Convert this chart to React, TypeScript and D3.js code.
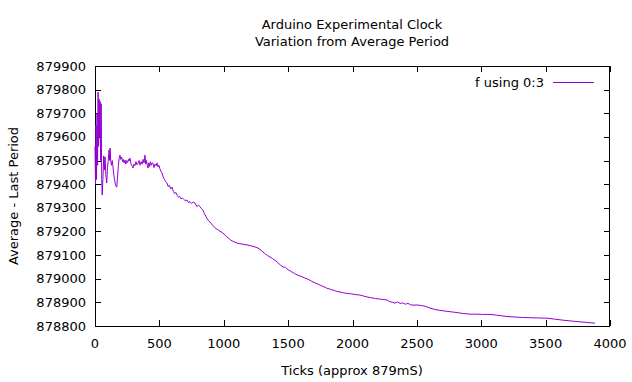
import React from "react";
import * as d3 from "d3";

const titleLines = ["Arduino Experimental Clock", "Variation from Average Period"];
const xLabel = "Ticks (approx 879mS)";
const yLabel = "Average - Last Period";
const legendLabel = "f using 0:3";
const xTicks = [0, 500, 1000, 1500, 2000, 2500, 3000, 3500, 4000];
const yTicks = [878800, 878900, 879000, 879100, 879200, 879300, 879400, 879500, 879600, 879700, 879800, 879900];

const ticks = [
  0, 4, 8, 12, 16, 20, 24, 28, 32, 36,
  40, 44, 48, 52, 56, 62, 68, 73, 78, 84,
  91, 97, 103, 109, 114, 117, 122, 128, 134, 140,
  146, 152, 158, 164, 169, 175, 182, 188, 194, 200,
  207, 214, 220, 226, 233, 240, 247, 254, 260, 266,
  272, 278, 284, 290, 295, 302, 310, 318, 326, 334,
  342, 350, 358, 366, 374, 381, 388, 394, 400, 406,
  412, 418, 424, 430, 436, 443, 450, 458, 466, 474,
  482, 489, 496, 504, 512, 520, 530, 540, 549, 559,
  568, 578, 588, 598, 608, 618, 628, 637, 648, 658,
  668, 678, 690, 702, 715, 727, 738, 750, 763, 777,
  790, 803, 816, 828, 839, 850, 860, 870, 878, 900,
  920, 940, 960, 980, 994, 1015, 1035, 1055, 1080, 1103,
  1125, 1150, 1181, 1205, 1235, 1266, 1290, 1315, 1340, 1359,
  1380, 1400, 1420, 1440, 1460, 1480, 1500, 1525, 1550, 1575,
  1600, 1625, 1654, 1680, 1710, 1740, 1770, 1800, 1830, 1860,
  1880, 1903, 1930, 1960, 1990, 2020, 2058, 2090, 2120, 2150,
  2180, 2210, 2240, 2268, 2290, 2310, 2330, 2350, 2370, 2390,
  2410, 2430, 2450, 2470, 2500, 2530, 2560, 2602, 2640, 2680,
  2720, 2750, 2781, 2820, 2860, 2913, 2960, 3010, 3068, 3120,
  3160, 3200, 3260, 3320, 3380, 3440, 3511, 3570, 3630, 3700,
  3760, 3820, 3883,
];
const values = [
  879560, 879400, 879650, 879420, 879700, 879480, 879790, 879560, 879760, 879600,
  879750, 879500, 879740, 879420, 879354, 879430, 879520, 879460, 879515, 879440,
  879405, 879470, 879500, 879545, 879500, 879553, 879500, 879480, 879500, 879473,
  879440, 879420, 879400, 879390, 879388, 879430, 879480, 879510, 879523, 879505,
  879515, 879495, 879505, 879490, 879502, 879485, 879500, 879492, 879505, 879498,
  879510, 879490, 879480, 879475, 879468, 879485, 879478, 879495, 879482, 879489,
  879500, 879480, 879495, 879485, 879505, 879490, 879523, 879485, 879500, 879480,
  879468, 879490, 879475, 879495, 879480, 879490, 879489, 879470, 879485, 879478,
  879490, 879473, 879480, 879465, 879455, 879447, 879430, 879420, 879410, 879405,
  879390, 879395, 879380, 879388, 879370, 879360, 879365, 879354, 879345, 879348,
  879338, 879342, 879335, 879330, 879333, 879322, 879326, 879318, 879325, 879320,
  879305, 879312, 879304, 879296, 879290, 879275, 879265, 879255, 879248, 879235,
  879222, 879212, 879205, 879198, 879193, 879182, 879172, 879163, 879156, 879151,
  879148, 879146, 879143, 879140, 879136, 879130, 879120, 879108, 879098, 879092,
  879085, 879077, 879068, 879058, 879050, 879048, 879038, 879030, 879022, 879015,
  879010, 879004, 878998, 878990, 878982, 878975, 878968, 878960, 878955, 878950,
  878946, 878944, 878940, 878938, 878936, 878933, 878931, 878926, 878922, 878919,
  878916, 878914, 878912, 878910, 878903, 878900, 878897, 878902, 878895, 878898,
  878892, 878896, 878890, 878888, 878889, 878887, 878884, 878876, 878870, 878866,
  878863, 878861, 878859, 878856, 878853, 878850, 878850, 878849, 878849, 878846,
  878843, 878840, 878838, 878836, 878835, 878834, 878833, 878829, 878825, 878821,
  878818, 878815, 878812,
];

const W = 632;
const H = 382;
const L = 95, R = 610, T = 66, B = 326;
const FONT = "DejaVu Sans, sans-serif";

export default function App() {
  const x = d3.scaleLinear().domain([0, 4000]).range([L, R]);
  const y = d3.scaleLinear().domain([878800, 879900]).range([B, T]);
  const pts: [number, number][] = ticks.map((t, i) => [t, values[i]]);
  const line = d3.line<[number, number]>().x((d) => x(d[0])).y((d) => y(d[1]));
  const tl = 6;
  return (
    <svg width={W} height={H} style={{ position: "absolute", left: 0, top: 0, background: "#fff" }}>
      <rect x={0} y={0} width={W} height={H} fill="#fff" />
      {titleLines.map((t, i) => (
        <text key={t} x={352} y={29 + i * 17} textAnchor="middle" fontFamily={FONT} fontSize={13} fill="#000">{t}</text>
      ))}
      <g stroke="#000" strokeWidth={1} fill="none">
        <rect x={L + 0.5} y={T + 0.5} width={R - L - 1} height={B - T} />
        {yTicks.map((v) => (
          <g key={v}>
            <line x1={L} x2={L + tl} y1={Math.round(y(v)) + 0.5} y2={Math.round(y(v)) + 0.5} />
            <line x1={R - tl} x2={R} y1={Math.round(y(v)) + 0.5} y2={Math.round(y(v)) + 0.5} />
          </g>
        ))}
        {xTicks.map((v) => (
          <g key={v}>
            <line x1={Math.round(x(v)) + 0.5} x2={Math.round(x(v)) + 0.5} y1={B} y2={B - tl} />
            <line x1={Math.round(x(v)) + 0.5} x2={Math.round(x(v)) + 0.5} y1={T} y2={T + tl} />
          </g>
        ))}
      </g>
      {yTicks.map((v) => (
        <text key={v} x={86} y={y(v) + 4.5} textAnchor="end" fontFamily={FONT} fontSize={13} fill="#000">{v}</text>
      ))}
      {xTicks.map((v) => (
        <text key={v} x={x(v)} y={348} textAnchor="middle" fontFamily={FONT} fontSize={13} fill="#000">{v}</text>
      ))}
      <text x={352} y={375} textAnchor="middle" fontFamily={FONT} fontSize={13} fill="#000">{xLabel}</text>
      <text transform={`translate(18,196) rotate(-90)`} textAnchor="middle" fontFamily={FONT} fontSize={13} fill="#000">{yLabel}</text>
      <path d={line(pts) || ""} fill="none" stroke="#9400d3" strokeWidth={1} strokeLinejoin="round" />
      <text x={544} y={87} textAnchor="end" fontFamily={FONT} fontSize={13} fill="#000">{legendLabel}</text>
      <line x1={553} x2={594} y1={82.5} y2={82.5} stroke="#9400d3" strokeWidth={1} />
    </svg>
  );
}
